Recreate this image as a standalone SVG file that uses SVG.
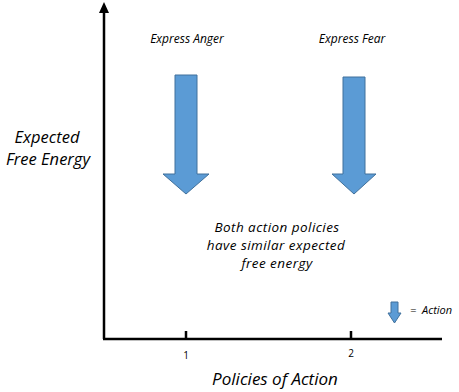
<svg xmlns="http://www.w3.org/2000/svg" width="459" height="392" viewBox="0 0 459 392">
<style>
.t{font-family:"Open Sans","DejaVu Sans",sans-serif;font-style:italic;fill:#000;text-anchor:middle}
.ax{stroke:#000;stroke-width:2.5;fill:none}
.arr{fill:#5b9bd5;stroke:#41719c;stroke-width:1}
.n{font-size:13.5px;letter-spacing:0.45px}
</style>
<rect width="459" height="392" fill="#fff"/>
<g id="axes">
<line class="ax" x1="104" y1="339" x2="104" y2="10"/>
<polygon points="104,2 99,13 109,13" fill="#000"/>
<line class="ax" x1="103" y1="339" x2="442" y2="339"/>
<line class="ax" x1="186" y1="331" x2="186" y2="339"/>
<line class="ax" x1="351" y1="331" x2="351" y2="339"/>
</g>
<g id="labels">
<text class="t" x="47" y="143" font-size="16.5">Expected</text>
<text class="t" x="48" y="165" font-size="16.5">Free Energy</text>
<text class="t" x="275" y="385" font-size="17">Policies of Action</text>
<text x="186" y="359" font-family="Open Sans, sans-serif" font-size="10" text-anchor="middle">1</text>
<text x="351" y="357" font-family="Open Sans, sans-serif" font-size="10" text-anchor="middle">2</text>
</g>
<g id="node-anger">
<text class="t" x="187" y="43" font-size="12">Express Anger</text>
<polygon class="arr" points="175,75 197,75 197,174 209,174 186,194 163,174 175,174"/>
</g>
<g id="node-fear">
<text class="t" x="352" y="43" font-size="12">Express Fear</text>
<polygon class="arr" points="343,77 365,77 365,174 376,174 354,194 332,174 343,174"/>
</g>
<g id="note">
<text class="t n" x="277" y="232">Both action policies</text>
<text class="t n" x="276" y="250">have similar expected</text>
<text class="t n" x="277" y="268">free energy</text>
</g>
<g id="legend">
<polygon class="arr" points="391,302 398,302 398,313 401,313 394.5,323 388,313 391,313"/>
<text x="410" y="314" font-family="Open Sans, sans-serif" font-style="italic" font-size="11" xml:space="preserve">=  Action</text>
</g>
</svg>
